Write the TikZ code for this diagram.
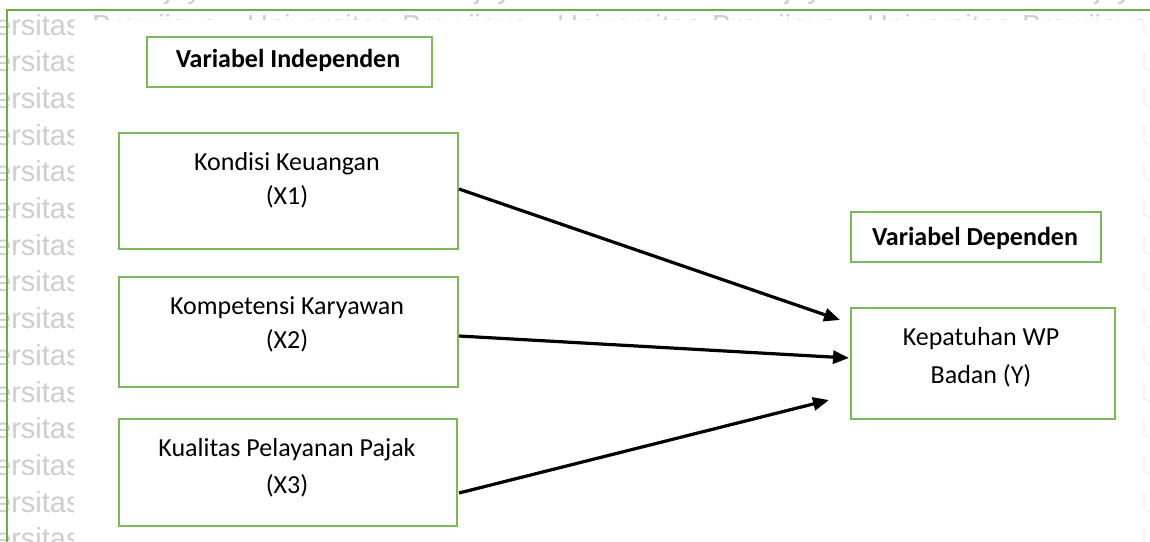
\documentclass[tikz,border=0pt]{standalone}
\usepackage{fontspec}
\setmainfont{Carlito}
\newfontfamily\wmfont{Liberation Sans}
\usetikzlibrary{arrows.meta,calc}
\definecolor{framegreen}{HTML}{70AD47}
\definecolor{boxgreen}{HTML}{7DB85A}
\definecolor{wmgray}{RGB}{206,206,206}
\begin{document}
\begin{tikzpicture}[x=1pt,y=-1pt,
  box/.style={draw=boxgreen, line width=2pt, fill=white, inner sep=0pt},
  lbl/.style={font=\fontsize{26pt}{35pt}\selectfont, inner sep=0pt, anchor=base},
  hdr/.style={font=\fontsize{26pt}{35pt}\selectfont\bfseries, inner sep=0pt, anchor=base},
  wm/.style={font=\wmfont\fontsize{29pt}{34pt}\selectfont, text=wmgray, inner sep=0pt, anchor=base west},
  arr/.style={line width=3.2pt, -{Triangle[length=16pt,width=13pt]}}]
\useasboundingbox (0,0) rectangle (1150,541);
\clip (0,0) rectangle (1150,541);
\fill[white] (0,0) rectangle (1150,541);
% watermark, only where it shows
\foreach \c in {0,...,3}{
  \foreach \r in {0,1}{
    \node[wm] (wu\r\c) at ({-63+310*\c},{-1.7+36.7*\r}) {Universitas};
    \node[wm] (wb\r\c) at ({92+310*\c},{-1.7+36.7*\r}) {Brawijaya};
  }
}
\foreach \r in {2,...,15}{
  \node[wm] (wl\r) at (-63,{-1.7+36.7*\r}) {Universitas};
  \node[wm] (wr\r) at (1140,{-1.7+36.7*\r}) {Universitas};
}
% page canvas
\fill[white] (74,20) rectangle (1142,545);
\fill[white, opacity=0.8] (1142,20) rectangle (1152,545);
\draw[framegreen, line width=2.5pt] (7,545) -- (7,10) -- (1152,10);
% headers
\node[box, minimum width=285pt, minimum height=50pt] (hi) at (289.5,62) {};
\node[hdr] (hit) at (288,67) {Variabel Independen};
\node[box, minimum width=250pt, minimum height=50pt] (hd) at (976,237) {};
\node[hdr] (hdt) at (975,245) {Variabel Dependen};
% independent variables
\node[box, minimum width=339pt, minimum height=116pt] (x1) at (288.5,191) {};
\node[lbl] (x1a) at (287,170) {Kondisi Keuangan};
\node[lbl] (x1b) at (287,204) {(X1)};
\node[box, minimum width=339pt, minimum height=110pt] (x2) at (288.5,332) {};
\node[lbl] (x2a) at (287,314) {Kompetensi Karyawan};
\node[lbl] (x2b) at (287,348) {(X2)};
\node[box, minimum width=338pt, minimum height=107pt] (x3) at (288,472.5) {};
\node[lbl] (x3a) at (287,456) {Kualitas Pelayanan Pajak};
\node[lbl] (x3b) at (287,493) {(X3)};
% dependent variable
\node[box, minimum width=264pt, minimum height=111pt] (y) at (983,363.5) {};
\node[lbl] (ya) at (981,345) {Kepatuhan WP};
\node[lbl] (yb) at (981,383) {Badan (Y)};
% arrows
\draw[arr] ($(x1.east)+(0,-2)$) -- ($(y.west)+(-10,-43.5)$);
\draw[arr] ($(x2.east)+(0,4)$) -- ($(y.west)+(-1,-5.5)$);
\draw[arr] ($(x3.east)+(1,20.5)$) -- ($(y.west)+(-21,36.5)$);
\end{tikzpicture}
\end{document}
